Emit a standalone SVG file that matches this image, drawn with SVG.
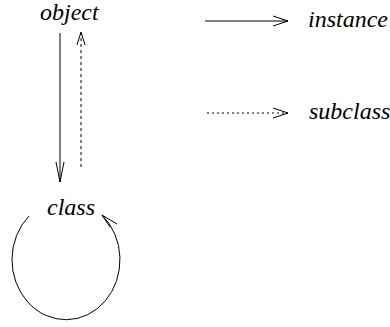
<svg xmlns="http://www.w3.org/2000/svg" width="390" height="327" viewBox="0 0 390 327">
<style>
text{font-family:"Liberation Serif","Times New Roman",serif;font-style:italic;font-size:24px;fill:#000}
.c{fill:none;stroke:#000;stroke-width:1}
.d{stroke-dasharray:3,3}
</style>
<rect width="390" height="327" fill="#fff"/>
<g id="object"><text x="40" y="20">object</text></g>
<g id="class"><text x="47" y="215">class</text></g>
<g id="legend-instance"><text x="308" y="27">instance</text></g>
<g id="legend-subclass"><text x="309" y="119">subclass</text></g>
<g id="connectors">
<path class="c" d="M60 33 V182 M56 162 L60 182 L64 162"/>
<path class="c d" d="M81 167 V33"/>
<path class="c" d="M77 45 L81 32 L85 45"/>
<path class="c" d="M29 216 A54 60 0 1 0 102 215"/>
<path class="c" d="M117 224 L102 215 L110 227"/>
<path class="c" d="M205 21 H288 M273 16 L288 21 L273 26"/>
<path class="c d" d="M207 113 H288" style="stroke-dasharray:2,3"/>
<path class="c" d="M273 108 L288 113 L273 118"/>
</g>
</svg>
